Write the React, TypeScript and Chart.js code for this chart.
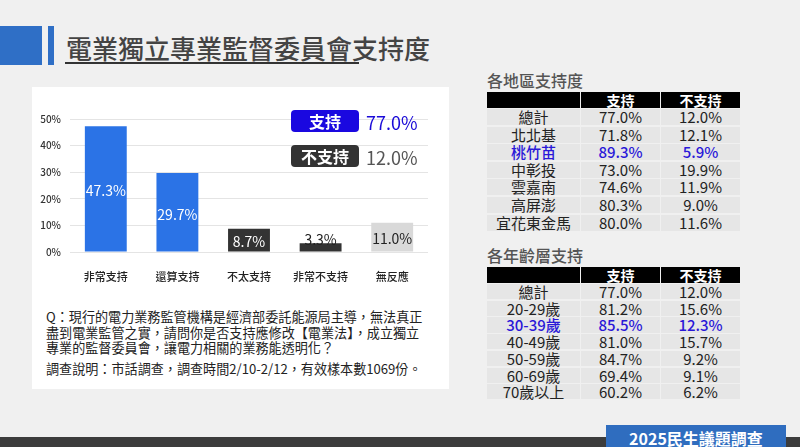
import React, { useEffect, useRef } from 'react';
import { Chart, registerables } from 'chart.js';

Chart.register(...registerables);

const FONT = '"Noto Sans CJK TC", "Noto Sans", sans-serif';

// ---- data ----
const categories = ['非常支持', '還算支持', '不太支持', '非常不支持', '無反應'];
const values = [47.3, 29.7, 8.7, 3.3, 11.0];
const yMax = 50;
const yStep = 10;
const supportTotal = '77.0%';
const opposeTotal = '12.0%';

const regionNames = ['總計', '北北基', '桃竹苗', '中彰投', '雲嘉南', '高屏澎', '宜花東金馬'];
const regionSupport = ['77.0%', '71.8%', '89.3%', '73.0%', '74.6%', '80.3%', '80.0%'];
const regionOppose = ['12.0%', '12.1%', '5.9%', '19.9%', '11.9%', '9.0%', '11.6%'];
const regionHighlight = 2;

const ageNames = ['總計', '20-29歲', '30-39歲', '40-49歲', '50-59歲', '60-69歲', '70歲以上'];
const ageSupport = ['77.0%', '81.2%', '85.5%', '81.0%', '84.7%', '69.4%', '60.2%'];
const ageOppose = ['12.0%', '15.6%', '12.3%', '15.7%', '9.2%', '9.1%', '6.2%'];
const ageHighlight = 2;

const questionLines = [
  'Q：現行的電力業務監管機構是經濟部委託能源局主導，無法真正',
  '盡到電業監管之實，請問你是否支持應修改【電業法】，成立獨立',
  '專業的監督委員會，讓電力相關的業務能透明化？',
];
const noteLine = '調查說明：市話調查，調查時間2/10-2/12，有效樣本數1069份。';

// ---- styles ----
const barColors = ['#2b73e6', '#2b73e6', '#333333', '#333333', '#d9d9d9'];
const labelColors = ['#ffffff', '#ffffff', '#ffffff', '#222222', '#222222'];
const HIGHLIGHT = '#2a18d8';

const labelPlugin = {
  id: 'barLabels',
  afterDatasetsDraw(chart: any) {
    const ctx = chart.ctx;
    const meta = chart.getDatasetMeta(0);
    ctx.save();
    ctx.font = `14px ${FONT}`;
    ctx.textAlign = 'center';
    ctx.textBaseline = 'middle';
    meta.data.forEach((bar: any, i: number) => {
      const { x, y, base } = bar.getProps(['x', 'y', 'base'], true);
      const h = base - y;
      const ty = h < 14 ? y - 4 : (y + base) / 2 + 2;
      ctx.fillStyle = labelColors[i];
      ctx.fillText(values[i].toFixed(1) + '%', x, ty);
    });
    ctx.restore();
  },
};

function BarChart() {
  const ref = useRef<HTMLCanvasElement | null>(null);
  useEffect(() => {
    if (!ref.current) return;
    const chart = new Chart(ref.current, {
      type: 'bar',
      data: {
        labels: categories,
        datasets: [
          {
            data: values,
            backgroundColor: barColors,
            borderWidth: 0,
            categoryPercentage: 1,
            barPercentage: 0.585,
          },
        ],
      },
      options: {
        animation: false,
        responsive: false,
        maintainAspectRatio: false,
        layout: { padding: { left: 0, right: 21, top: 24, bottom: 0 } },
        plugins: { legend: { display: false }, tooltip: { enabled: false } },
        scales: {
          x: {
            grid: { display: false },
            border: { display: false },
            ticks: { color: '#222', font: { size: 11, family: FONT, weight: 500 }, padding: 10 },
            afterFit: (s: any) => {
              s.height = 33;
            },
          },
          y: {
            min: 0,
            max: yMax,
            ticks: {
              stepSize: yStep,
              callback: (v: any) => v + '%',
              color: '#333',
              font: { size: 10, family: FONT, weight: 500 },
              padding: 9,
            },
            grid: { color: '#e4e4e4', drawTicks: false },
            border: { display: false },
            afterFit: (s: any) => {
              s.width = 38;
            },
          },
        },
      },
      plugins: [labelPlugin],
    } as any);
    return () => chart.destroy();
  }, []);
  return (
    <canvas
      ref={ref}
      width={417}
      height={190}
      style={{ position: 'absolute', left: 32, top: 95, width: 417, height: 190 }}
    />
  );
}

type TableProps = {
  title: string;
  titleTop: number;
  headTop: number;
  rowH: number;
  names: string[];
  sup: string[];
  opp: string[];
  hi: number;
};

const cols = [
  { left: 487, width: 93 },
  { left: 581, width: 79 },
  { left: 661, width: 79 },
];

function DataTable({ title, titleTop, headTop, rowH, names, sup, opp, hi }: TableProps) {
  const headH = 16;
  const cells: any[] = [];
  const heads = ['', '支持', '不支持'];
  heads.forEach((h, c) => {
    cells.push(
      <div
        key={'h' + c}
        style={{
          position: 'absolute',
          left: cols[c].left,
          top: headTop,
          width: cols[c].width,
          height: headH,
          background: '#000',
          color: '#fff',
          fontWeight: 700,
          fontSize: 14,
          lineHeight: headH + 'px',
          textAlign: 'center',
        }}
      >
        {h}
      </div>
    );
  });
  names.forEach((n, r) => {
    const rowVals = [n, sup[r], opp[r]];
    rowVals.forEach((v, c) => {
      cells.push(
        <div
          key={r + '-' + c}
          style={{
            position: 'absolute',
            left: cols[c].left,
            top: headTop + headH + 1 + r * rowH,
            width: cols[c].width,
            height: rowH - 1.5,
            background: '#e6e6e6',
            color: r === hi ? HIGHLIGHT : '#222',
            fontWeight: r === hi ? 500 : 400,
            fontSize: 15,
            lineHeight: rowH - 1.5 + 'px',
            textAlign: 'center',
            whiteSpace: 'nowrap',
          }}
        >
          {v}
        </div>
      );
    });
  });
  return (
    <>
      <div
        style={{
          position: 'absolute',
          left: 487,
          top: titleTop,
          fontSize: 16,
          fontWeight: 500,
          color: '#555',
          lineHeight: '20px',
          whiteSpace: 'nowrap',
        }}
      >
        {title}
      </div>
      {cells}
    </>
  );
}

export default function App() {
  return (
    <div
      lang="zh-Hant-TW"
      style={{
        position: 'absolute',
        left: 0,
        top: 0,
        width: 800,
        height: 447,
        background: '#f0f0f0',
        overflow: 'hidden',
        fontFamily: FONT,
      }}
    >
      {/* header */}
      <div style={{ position: 'absolute', left: 0, top: 26, width: 42, height: 39, background: '#2f6fc6' }} />
      <div style={{ position: 'absolute', left: 48, top: 26, width: 6, height: 39, background: '#2f6fc6' }} />
      <div
        style={{
          position: 'absolute',
          left: 66,
          top: 31,
          fontSize: 26,
          fontWeight: 500,
          color: '#444',
          lineHeight: '34px',
          whiteSpace: 'nowrap',
        }}
      >
        電業獨立專業監督委員會支持度
      </div>
      <div style={{ position: 'absolute', left: 65, top: 62, width: 294, height: 1.5, background: '#333' }} />

      {/* white panel */}
      <div style={{ position: 'absolute', left: 32, top: 87, width: 417, height: 302, background: '#fff' }} />
      <BarChart />

      {/* legend boxes */}
      <div
        style={{
          position: 'absolute',
          left: 291,
          top: 110,
          width: 68,
          height: 22,
          background: '#1a08e0',
          borderRadius: 4,
          color: '#fff',
          fontWeight: 700,
          fontSize: 16,
          lineHeight: '22px',
          textAlign: 'center',
        }}
      >
        支持
      </div>
      <div
        style={{
          position: 'absolute',
          left: 366,
          top: 110,
          color: '#1a0ad8',
          fontSize: 18,
          lineHeight: '24px',
        }}
      >
        {supportTotal}
      </div>
      <div
        style={{
          position: 'absolute',
          left: 291,
          top: 145,
          width: 68,
          height: 22,
          background: '#333',
          borderRadius: 4,
          color: '#fff',
          fontWeight: 700,
          fontSize: 16,
          lineHeight: '22px',
          textAlign: 'center',
        }}
      >
        不支持
      </div>
      <div
        style={{
          position: 'absolute',
          left: 366,
          top: 145,
          color: '#555',
          fontSize: 18,
          lineHeight: '24px',
        }}
      >
        {opposeTotal}
      </div>

      {/* question */}
      {questionLines.map((l, i) => (
        <div
          key={i}
          style={{
            position: 'absolute',
            left: 46,
            top: 309 + i * 15.5,
            fontSize: 13.1,
            lineHeight: '16px',
            color: '#222',
            whiteSpace: 'nowrap',
          }}
        >
          {l}
        </div>
      ))}
      <div
        style={{
          position: 'absolute',
          left: 46,
          top: 361,
          fontSize: 13.1,
          lineHeight: '16px',
          color: '#222',
          whiteSpace: 'nowrap',
        }}
      >
        {noteLine}
      </div>

      {/* tables */}
      <DataTable
        title="各地區支持度"
        titleTop={70}
        headTop={92}
        rowH={17.6}
        names={regionNames}
        sup={regionSupport}
        opp={regionOppose}
        hi={regionHighlight}
      />
      <DataTable
        title="各年齡層支持"
        titleTop={245}
        headTop={267}
        rowH={16.7}
        names={ageNames}
        sup={ageSupport}
        opp={ageOppose}
        hi={ageHighlight}
      />

      {/* footer */}
      <div style={{ position: 'absolute', left: 0, top: 437, width: 800, height: 10, background: '#3c3c3c' }} />
      <div
        style={{
          position: 'absolute',
          left: 606,
          top: 425,
          width: 180,
          height: 22,
          background: '#2f6dbf',
          color: '#fff',
          fontWeight: 700,
          fontSize: 16,
          lineHeight: '26px',
          textAlign: 'center',
          whiteSpace: 'nowrap',
        }}
      >
        2025民生議題調查
      </div>
    </div>
  );
}
